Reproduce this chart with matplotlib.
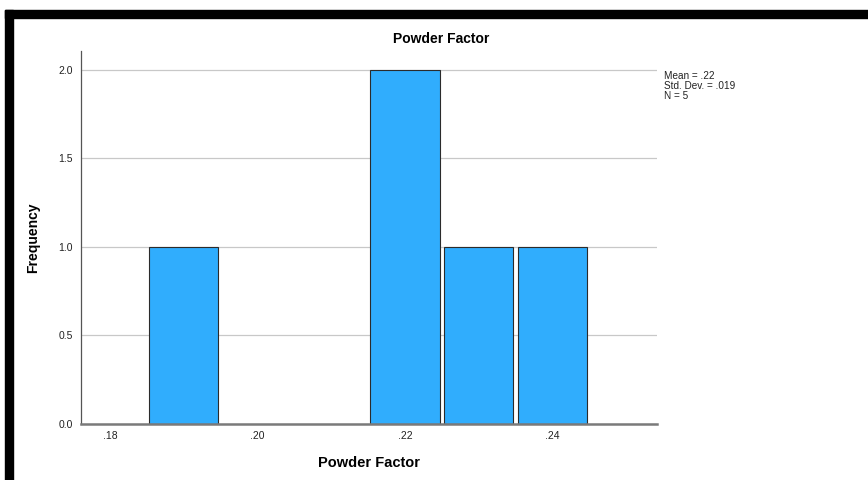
import matplotlib
matplotlib.use("Agg")
import matplotlib.pyplot as plt
from matplotlib.patches import Rectangle

# Histogram of powder factor (bin centres and counts)
bin_centers = [0.19, 0.22, 0.23, 0.24]
frequencies = [1, 2, 1, 1]
x_ticks = [0.18, 0.20, 0.22, 0.24]
x_tick_labels = [".18", ".20", ".22", ".24"]
y_ticks = [0.0, 0.5, 1.0, 1.5, 2.0]
y_tick_labels = ["0.0", "0.5", "1.0", "1.5", "2.0"]
stats_lines = ["Mean = .22", "Std. Dev. = .019", "N = 5"]

plt.rcParams["font.family"] = ["Liberation Sans", "DejaVu Sans"]

W, H = 868, 480
fig = plt.figure(figsize=(W / 100, H / 100), dpi=100)
fig.patch.set_facecolor("white")

# frame bands along the top and left edges
fig.patches.append(Rectangle((5 / W, 1 - 18 / H), 1 - 5 / W, 8 / H,
                             transform=fig.transFigure, color="black", zorder=0))
fig.patches.append(Rectangle((5 / W, 0), 8 / W, 1 - 10 / H,
                             transform=fig.transFigure, color="black", zorder=0))

ax = fig.add_axes([81 / W, 1 - 424 / H, (657 - 81) / W, (424 - 51) / H])
ax.set_xlim(0.17607, 0.25417)
ax.set_ylim(0, 2.107)

ax.bar(bin_centers, frequencies, width=0.0094, color="#30adfd",
       edgecolor="#2b2b2b", linewidth=0.8, zorder=3)

ax.set_yticks(y_ticks)
ax.set_yticklabels(y_tick_labels)
ax.set_xticks(x_ticks)
ax.set_xticklabels(x_tick_labels)
ax.tick_params(axis="both", length=0, labelsize=7.5, colors="#222222")
ax.tick_params(axis="y", pad=6)
ax.tick_params(axis="x", pad=5)

ax.grid(axis="y", color="#c8c8c8", linewidth=0.9, zorder=0)
ax.set_axisbelow(True)
for s in ("top", "right"):
    ax.spines[s].set_visible(False)
ax.spines["left"].set_color("#555555")
ax.spines["left"].set_linewidth(0.9)
ax.spines["bottom"].set_color("#7a7a7a")
ax.spines["bottom"].set_linewidth(1.8)
ax.spines["bottom"].set_zorder(4)

ax.set_xlabel("Powder Factor", fontsize=10.5, fontweight="bold", labelpad=11)
ax.set_ylabel("Frequency", fontsize=10, fontweight="bold", labelpad=13)

fig.text(441 / W, 1 - 39 / H, "Powder Factor", ha="center", va="center",
         fontsize=10, fontweight="bold")

fig.text(664 / W, 1 - 71 / H, "\n".join(stats_lines), ha="left", va="top",
         fontsize=7.2, linespacing=1.0, color="#222222")

fig.savefig("out.png", dpi=100, facecolor="white")
